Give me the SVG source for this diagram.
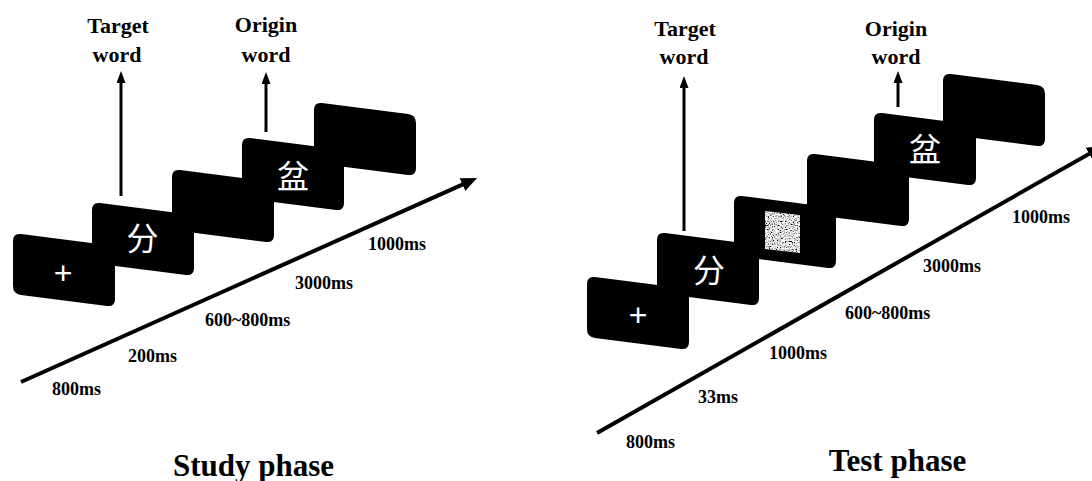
<svg xmlns="http://www.w3.org/2000/svg" width="1092" height="481" viewBox="0 0 1092 481">
<style>
.scr{fill:#000}
.lbl{font-family:"Liberation Serif","Times New Roman",serif;font-weight:bold;font-size:22px;fill:#000;text-anchor:middle}
.tm{font-family:"Liberation Serif","Times New Roman",serif;font-weight:bold;font-size:18px;fill:#000}
.ttl{font-family:"Liberation Serif","Times New Roman",serif;font-weight:bold;font-size:31px;fill:#000;text-anchor:middle}
.cjk{font-family:"Noto Sans CJK SC","Noto Sans CJK TC",sans-serif;font-size:32px;fill:#fff;text-anchor:middle}
.fix{font-family:"Liberation Sans",Arial,sans-serif;font-size:32px;fill:#fff;text-anchor:middle}
.ax{stroke:#000;stroke-width:4;fill:none}
.up{stroke:#000;stroke-width:3;fill:none}
</style>
<defs>
<path id="scr" d="M0,8 Q0,0 8,1 L94,12 Q102,13 102,21 L102,66 Q102,74 94,73 L8,62 Q0,61 0,53 Z"/>
<marker id="bigHead" markerUnits="userSpaceOnUse" markerWidth="18" markerHeight="16" refX="6" refY="7" orient="auto">
<path d="M0,0 L16,7 L0,14 Z" fill="#000"/>
</marker>
<marker id="smallHead" markerUnits="userSpaceOnUse" markerWidth="14" markerHeight="10" refX="4" refY="4.5" orient="auto">
<path d="M0,0 L12,4.5 L0,9 Z" fill="#000"/>
</marker>
<filter id="noise" x="0" y="0" width="100%" height="100%">
<feTurbulence type="fractalNoise" baseFrequency="0.75" numOctaves="2" seed="7" result="t"/>
<feColorMatrix in="t" type="matrix" values="3.4 0 0 0 -0.95  3.4 0 0 0 -0.95  3.4 0 0 0 -0.95  0 0 0 0 1" result="g"/>
<feComposite in="g" in2="SourceGraphic" operator="in"/>
</filter>
</defs>
<rect width="1092" height="481" fill="#fff"/>

<!-- Study phase -->
<g id="study-screen1"><use href="#scr" class="scr" transform="translate(13,233)"/><text class="fix" x="63" y="284">+</text></g>
<g id="study-screen2"><use href="#scr" class="scr" transform="translate(92,202)"/><text class="cjk" x="142.5" y="250">分</text></g>
<g id="study-screen3"><use href="#scr" class="scr" transform="translate(172,169)"/></g>
<g id="study-screen4"><use href="#scr" class="scr" transform="translate(242,137)"/><text class="cjk" x="293" y="188">盆</text></g>
<g id="study-screen5"><use href="#scr" class="scr" transform="translate(314,102)"/></g>

<!-- Test phase -->
<g id="test-screen1"><use href="#scr" class="scr" transform="translate(587,276)"/><text class="fix" x="638" y="326">+</text></g>
<g id="test-screen2"><use href="#scr" class="scr" transform="translate(657,232)"/><text class="cjk" x="709" y="282">分</text></g>
<g id="test-screen3"><use href="#scr" class="scr" transform="translate(734,195)"/><polygon points="765,211 800,215 800,253 765,249" fill="#fff" filter="url(#noise)"/></g>
<g id="test-screen4"><use href="#scr" class="scr" transform="translate(807,153)"/></g>
<g id="test-screen5"><use href="#scr" class="scr" transform="translate(874,112)"/><text class="cjk" x="925" y="161">盆</text></g>
<g id="test-screen6"><use href="#scr" class="scr" transform="translate(943,73)"/></g>

<g id="connectors">
<line class="ax" x1="21" y1="382" x2="467.9" y2="182.1" marker-end="url(#bigHead)"/>
<line class="ax" x1="597" y1="433" x2="1094.3" y2="150.9" marker-end="url(#bigHead)"/>
<line class="up" x1="121" y1="196" x2="121" y2="79" marker-end="url(#smallHead)"/>
<line class="up" x1="266" y1="132" x2="266" y2="80" marker-end="url(#smallHead)"/>
<line class="up" x1="684" y1="231" x2="684" y2="84" marker-end="url(#smallHead)"/>
<line class="up" x1="898" y1="107" x2="898" y2="79" marker-end="url(#smallHead)"/>
</g>

<g id="labels">
<text class="lbl" x="118" y="33">Target</text>
<text class="lbl" x="117" y="62">word</text>
<text class="lbl" x="266" y="32">Origin</text>
<text class="lbl" x="266" y="62">word</text>
<text class="lbl" x="685" y="36">Target</text>
<text class="lbl" x="684" y="64">word</text>
<text class="lbl" x="896" y="36">Origin</text>
<text class="lbl" x="896" y="64">word</text>

<text class="tm" x="368" y="250">1000ms</text>
<text class="tm" x="295" y="289">3000ms</text>
<text class="tm" x="205" y="326">600~800ms</text>
<text class="tm" x="128" y="362">200ms</text>
<text class="tm" x="52" y="395">800ms</text>

<text class="tm" x="1012" y="223">1000ms</text>
<text class="tm" x="923" y="272">3000ms</text>
<text class="tm" x="845" y="319">600~800ms</text>
<text class="tm" x="769" y="359">1000ms</text>
<text class="tm" x="698" y="403">33ms</text>
<text class="tm" x="626" y="448">800ms</text>

<text class="ttl" x="253.5" y="476">Study phase</text>
<text class="ttl" x="897.5" y="471">Test phase</text>
</g>
</svg>
